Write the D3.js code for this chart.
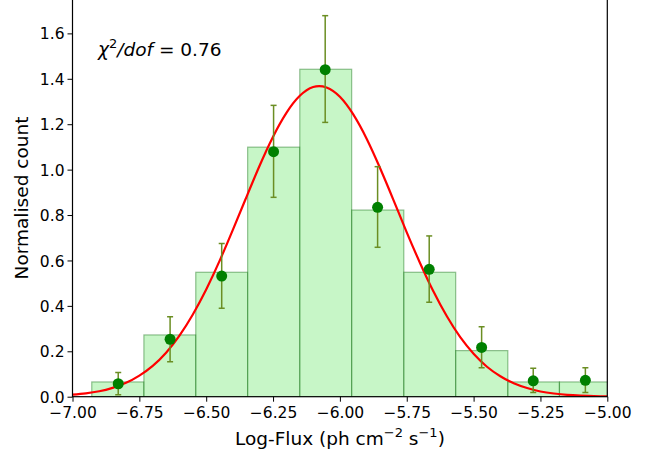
<!DOCTYPE html>
<html>
<head>
<meta charset="utf-8">
<script src="https://cdn.jsdelivr.net/npm/d3@7"></script>
<style>
  body { margin: 0; background: #fff; }
  svg { font-family: 'DejaVu Sans', sans-serif; }
</style>
</head>
<body>
<div id="chart"></div>
<script>
// histogram bins (log-flux left edges) and normalised heights
const binEdges = [-6.928, -6.733, -6.539, -6.345, -6.150, -5.956, -5.761, -5.567, -5.372, -5.179, -4.985];
const binHeights = [0.065, 0.272, 0.548, 1.099, 1.442, 0.822, 0.548, 0.203, 0.065, 0.065];

// data points with error bars
const pointX = [-6.829, -6.635, -6.442, -6.248, -6.055, -5.859, -5.666, -5.470, -5.277, -5.082];
const pointY = [0.057, 0.253, 0.531, 1.079, 1.440, 0.834, 0.561, 0.217, 0.070, 0.072];
const errLow = [0.009, 0.154, 0.389, 0.878, 1.208, 0.658, 0.416, 0.128, 0.018, 0.018];
const errHigh = [0.107, 0.352, 0.675, 1.283, 1.678, 1.013, 0.708, 0.308, 0.125, 0.128];

// fitted curve
const fitX = [-7.0, -6.95, -6.9, -6.85, -6.8, -6.75, -6.7, -6.65, -6.6, -6.55, -6.5,
              -6.45, -6.4, -6.35, -6.3, -6.25, -6.2, -6.15, -6.1, -6.05, -6.0,
              -5.95, -5.9, -5.85, -5.8, -5.75, -5.7, -5.65, -5.6, -5.55, -5.5,
              -5.45, -5.4, -5.35, -5.3, -5.25, -5.2, -5.15, -5.1, -5.05, -5.0];
const fitY = [0.009, 0.015, 0.024, 0.039, 0.061, 0.093, 0.136, 0.194, 0.269, 0.362, 0.472,
              0.598, 0.736, 0.878, 1.018, 1.145, 1.250, 1.325, 1.364, 1.362, 1.321,
              1.243, 1.136, 1.007, 0.867, 0.724, 0.588, 0.463, 0.354, 0.262, 0.189,
              0.132, 0.090, 0.059, 0.038, 0.023, 0.014, 0.008, 0.005, 0.003, 0.001];

const xTicks = [-7.0, -6.75, -6.5, -6.25, -6.0, -5.75, -5.5, -5.25, -5.0];
const yTicks = [0.0, 0.2, 0.4, 0.6, 0.8, 1.0, 1.2, 1.4, 1.6];

const svgWidth = 662, svgHeight = 454;
let padding = { left: 72.5, right: 54.7, top: 0, bottom: 57.3 };

let svg = d3.select('#chart').append('svg')
  .attr('width', svgWidth)
  .attr('height', svgHeight);

let x = d3.scaleLinear()
  .domain([-7.0, -5.0])
  .range([padding.left, svgWidth - padding.right]);
let y = d3.scaleLinear()
  .domain([0, 1.747])
  .range([svgHeight - padding.bottom, padding.top]);

svg.append('defs').append('clipPath')
  .attr('id', 'plotClip')
  .append('rect')
  .attr('x', padding.left)
  .attr('y', padding.top)
  .attr('width', svgWidth - padding.left - padding.right)
  .attr('height', svgHeight - padding.top - padding.bottom);

let body = svg.append('g').attr('clip-path', 'url(#plotClip)');

// bars
body.selectAll('.bar')
  .data(binHeights)
  .enter()
  .append('rect')
  .attr('class', 'bar')
  .attr('x', (d, i) => x(binEdges[i]))
  .attr('y', d => y(d))
  .attr('width', (d, i) => x(binEdges[i + 1]) - x(binEdges[i]))
  .attr('height', d => y(0) - y(d))
  .attr('fill', '#90ee90')
  .attr('fill-opacity', 0.5)
  .attr('stroke', '#006400')
  .attr('stroke-opacity', 0.4)
  .attr('stroke-width', 1.2);

// fit curve
let line = d3.line()
  .x((d, i) => x(fitX[i]))
  .y(d => y(d))
  .curve(d3.curveNatural);

body.append('path')
  .datum(fitY)
  .attr('d', line)
  .attr('fill', 'none')
  .attr('stroke', 'red')
  .attr('stroke-width', 2.2);

// error bars
let errs = body.selectAll('.err')
  .data(pointY)
  .enter()
  .append('g')
  .attr('class', 'err')
  .attr('stroke', '#6b8e23')
  .attr('stroke-width', 1.5);

errs.append('line')
  .attr('x1', (d, i) => x(pointX[i]))
  .attr('x2', (d, i) => x(pointX[i]))
  .attr('y1', (d, i) => y(errLow[i]))
  .attr('y2', (d, i) => y(errHigh[i]));
errs.append('line')
  .attr('x1', (d, i) => x(pointX[i]) - 3)
  .attr('x2', (d, i) => x(pointX[i]) + 3)
  .attr('y1', (d, i) => y(errLow[i]))
  .attr('y2', (d, i) => y(errLow[i]));
errs.append('line')
  .attr('x1', (d, i) => x(pointX[i]) - 3)
  .attr('x2', (d, i) => x(pointX[i]) + 3)
  .attr('y1', (d, i) => y(errHigh[i]))
  .attr('y2', (d, i) => y(errHigh[i]));

// points
body.selectAll('.pt')
  .data(pointY)
  .enter()
  .append('circle')
  .attr('class', 'pt')
  .attr('cx', (d, i) => x(pointX[i]))
  .attr('cy', d => y(d))
  .attr('r', 5.5)
  .attr('fill', 'green');

// axes
let axis_x = d3.axisBottom(x)
  .tickValues(xTicks)
  .tickSize(5)
  .tickPadding(5.5)
  .tickFormat(d => d3.format('.2f')(d).replace('-', '\u2212'));
let axis_y = d3.axisLeft(y)
  .tickValues(yTicks)
  .tickSize(5)
  .tickPadding(3)
  .tickFormat(d3.format('.1f'));

let gx = svg.append('g')
  .attr('transform', `translate(0, ${y(0)})`)
  .call(axis_x);
let gy = svg.append('g')
  .attr('transform', `translate(${padding.left}, 0)`)
  .call(axis_y);

[gx, gy].forEach(g => {
  g.select('.domain').remove();
  g.selectAll('line').attr('stroke', '#000').attr('stroke-width', 1);
  g.selectAll('text')
    .attr('fill', '#000')
    .style('font-size', '15.5px')
    .style('font-family', "'DejaVu Sans', sans-serif");
});
gy.selectAll('text').attr('dy', '0.36em');

// spines
svg.append('rect')
  .attr('x', padding.left)
  .attr('y', padding.top - 2)
  .attr('width', x(-5.0) - padding.left)
  .attr('height', y(0) - padding.top + 2)
  .attr('fill', 'none')
  .attr('stroke', '#000')
  .attr('stroke-width', 1.2);

// axis labels
svg.append('text')
  .attr('x', (padding.left + x(-5.0)) / 2)
  .attr('y', 445)
  .attr('text-anchor', 'middle')
  .style('font-size', '18.5px')
  .html('Log-Flux (ph cm<tspan dy="-8" font-size="13px">\u22122</tspan><tspan dy="8"> s</tspan><tspan dy="-8" font-size="13px">\u22121</tspan><tspan dy="8">)</tspan>');

svg.append('text')
  .attr('transform', `translate(28, 198) rotate(-90)`)
  .attr('text-anchor', 'middle')
  .style('font-size', '18.5px')
  .text('Normalised count');

// chi-square annotation
svg.append('text')
  .attr('x', 98)
  .attr('y', 56)
  .style('font-size', '18.5px')
  .html('<tspan font-style="italic">\u03c7</tspan><tspan dy="-8" font-size="13px">2</tspan><tspan dy="8" font-style="italic">/dof</tspan><tspan> = 0.76</tspan>');
</script>
</body>
</html>
